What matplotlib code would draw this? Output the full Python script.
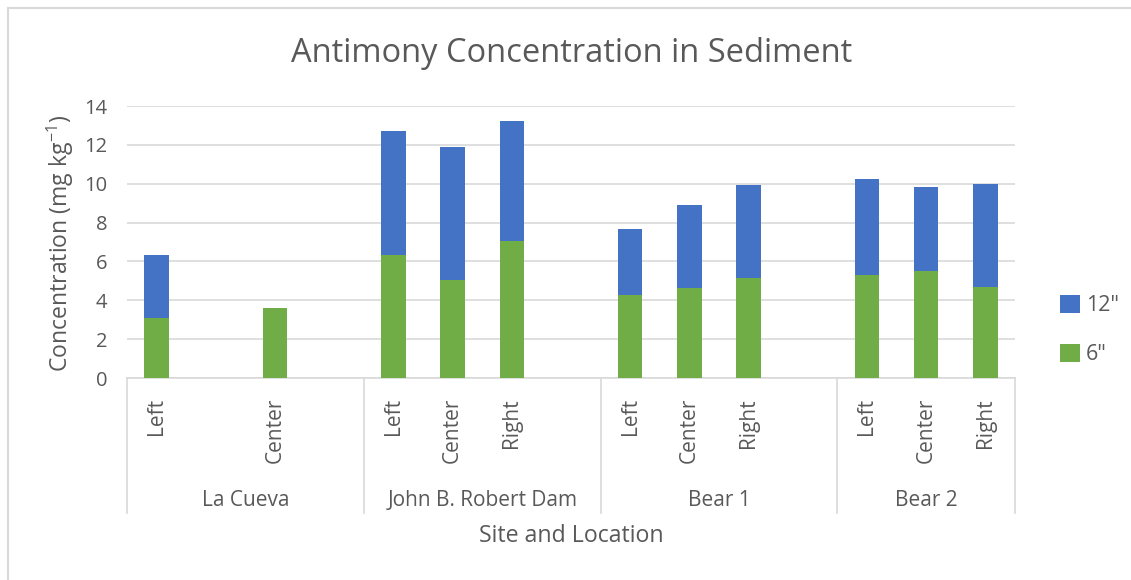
import numpy as np
import matplotlib
matplotlib.use("Agg")
from matplotlib import pyplot as plt
from matplotlib.patches import Rectangle

plt.rcParams['font.family'] = ['Open Sans', 'DejaVu Sans']
plt.rcParams['mathtext.default'] = 'regular'

# data (empty strings / nan = blank slots on the category axis, as in the original)
sites = ['La Cueva', 'John B. Robert Dam', 'Bear 1', 'Bear 2']
site_slots = [4, 4, 4, 3]
locations = ['Left', '', 'Center', '',
             'Left', 'Center', 'Right', '',
             'Left', 'Center', 'Right', '',
             'Left', 'Center', 'Right']
six_inch = [3.08, np.nan, 3.61, np.nan,
            6.32, 5.04, 7.05, np.nan,
            4.26, 4.64, 5.14, np.nan,
            5.29, 5.50, 4.69]
twelve_inch = [3.24, np.nan, np.nan, np.nan,
               6.41, 6.85, 6.18, np.nan,
               3.42, 4.29, 4.81, np.nan,
               4.97, 4.33, 5.27]

green = '#70AD47'
blue = '#4472C4'
grey = '#595959'
line_grey = '#D9D9D9'

W, H = 1131, 580
fig = plt.figure(figsize=(W / 100, H / 100), dpi=100)
ax = fig.add_axes([127 / W, (H - 378) / H, (1015 - 127) / W, (378 - 106) / H])

x = np.arange(len(locations))
six = np.array(six_inch)
twelve = np.array(twelve_inch)
ax.bar(x, six, width=0.41, color=green, label='6"', zorder=3)
ax.bar(x, twelve, width=0.41, bottom=six, color=blue, label='12"', zorder=3)

ax.set_xlim(-0.5, len(locations) - 0.5)
ax.set_ylim(0, 14)
ax.set_yticks(range(0, 15, 2))
ax.yaxis.grid(True, color=line_grey, lw=1.2)
ax.set_axisbelow(True)
for s in ['left', 'right', 'top']:
    ax.spines[s].set_visible(False)
ax.spines['bottom'].set_color(line_grey)
ax.spines['bottom'].set_linewidth(1.2)
ax.tick_params(axis='y', length=0, labelsize=14.5, labelcolor=grey, pad=14)
ax.tick_params(axis='x', length=0, labelbottom=False)

# multi-level category axis
tr = ax.get_xaxis_transform()
line_bottom = -(513 - 378) / 272
for i, loc in enumerate(locations):
    ax.text(i, -(398 - 378) / 272, loc, rotation=90, ha='center', va='top',
            fontsize=15, color=grey, transform=tr)
edges = np.concatenate([[0], np.cumsum(site_slots)]) - 0.5
for e in edges:
    ax.plot([e, e], [0, line_bottom], color=line_grey, lw=1.2,
            transform=tr, clip_on=False)
for name, a, b in zip(sites, edges[:-1], edges[1:]):
    ax.text((a + b) / 2, -(500 - 378) / 272, name, ha='center', va='center',
            fontsize=15, color=grey, transform=tr)

fig.text(571 / W, 1 - 536 / H, 'Site and Location', ha='center', va='center',
         fontsize=16.7, color=grey)
fig.text(60 / W, 1 - 243 / H, 'Concentration (mg kg$^{-1}$)', rotation=90,
         ha='center', va='center', fontsize=16.6, color=grey)
fig.text(572 / W, 1 - 53 / H, 'Antimony Concentration in Sediment',
         ha='center', va='center', fontsize=23.5, color=grey)

handles, labels = ax.get_legend_handles_labels()
leg = ax.legend(handles[::-1], labels[::-1], loc='center left',
                bbox_to_anchor=(1041 / W, 1 - 330 / H), bbox_transform=fig.transFigure,
                frameon=False, fontsize=15.5, labelcolor=grey,
                handlelength=0.9, handleheight=0.9, handletextpad=0.3, labelspacing=1.3)

# chart border (only top/left visible in the original crop)
fig.patches.append(Rectangle((8 / W, -0.1), 1.2, 1 - 8 / H + 0.1, transform=fig.transFigure,
                             fill=False, edgecolor=line_grey, lw=1.5))

fig.savefig('out.png', dpi=100)
